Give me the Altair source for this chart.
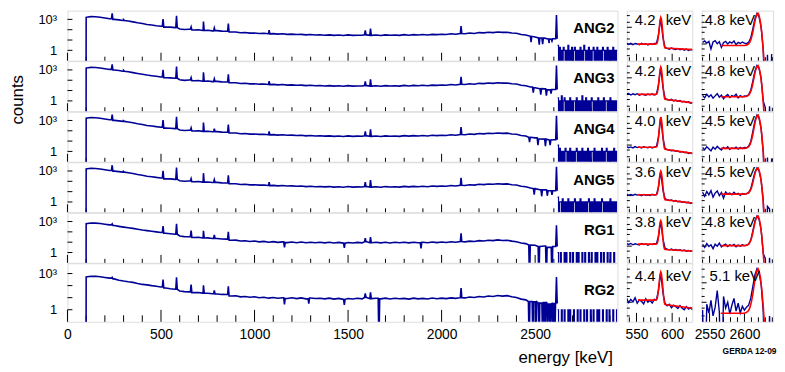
import math
import altair as alt
import pandas as pd

FONT = "Liberation Sans"
BLUE = "#000096"
RED = "#ff0000"
EMPTY = -3.0  # log10 position for empty (0-count) bins: drawn below the axis floor

DETECTORS = ["ANG2", "ANG3", "ANG4", "ANG5", "RG1", "RG2"]
FWHM_583 = ["4.2", "4.2", "4.0", "3.6", "3.8", "4.4"]
FWHM_2614 = ["4.8", "4.8", "4.5", "4.5", "4.8", "5.1"]

# ---------------- full spectra: log10(counts) on a 25 keV grid, 100..2600 keV
E_GRID = list(range(100, 2601, 25))

ANG2_LOG = [3.20,3.27,3.26,3.21,3.13,3.06,3.00,2.95,2.90,2.84,
            2.76,2.67,2.60,2.51,2.46,2.39,2.34,2.25,2.25,2.20,
            2.07,2.02,2.04,1.97,2.00,1.93,1.95,1.89,1.91,1.86,
            1.85,1.77,1.78,1.71,1.73,1.67,1.68,1.64,1.65,1.60,
            1.62,1.57,1.60,1.55,1.57,1.53,1.55,1.50,1.54,1.49,
            1.51,1.47,1.50,1.45,1.49,1.44,1.50,1.45,1.47,1.46,
            1.50,1.45,1.49,1.44,1.50,1.46,1.49,1.45,1.52,1.47,
            1.52,1.48,1.54,1.49,1.55,1.52,1.56,1.53,1.60,1.56,
            1.63,1.61,1.68,1.64,1.72,1.69,1.75,1.72,1.78,1.74,
            1.76,1.68,1.66,1.53,1.49,1.36,1.30,1.20,1.18,1.09,
            1.12]
ANG3_LOG = [3.18,3.25,3.24,3.19,3.12,3.05,2.99,2.94,2.88,2.82,
            2.74,2.66,2.58,2.50,2.44,2.38,2.32,2.24,2.23,2.19,
            2.05,1.99,2.02,1.95,1.98,1.91,1.93,1.87,1.89,1.84,
            1.83,1.75,1.76,1.69,1.71,1.65,1.66,1.62,1.63,1.58,
            1.60,1.55,1.58,1.53,1.55,1.51,1.53,1.48,1.52,1.47,
            1.49,1.45,1.48,1.43,1.47,1.42,1.48,1.43,1.45,1.44,
            1.48,1.43,1.47,1.42,1.48,1.44,1.47,1.43,1.50,1.45,
            1.50,1.46,1.52,1.47,1.53,1.50,1.54,1.51,1.58,1.54,
            1.61,1.59,1.66,1.62,1.70,1.67,1.73,1.70,1.76,1.72,
            1.74,1.66,1.64,1.51,1.47,1.34,1.28,1.18,1.16,1.07,
            1.10]
ANG4_LOG = [3.21,3.28,3.27,3.22,3.14,3.07,3.01,2.96,2.91,2.85,
            2.77,2.68,2.61,2.52,2.47,2.40,2.35,2.26,2.25,2.21,
            2.08,2.03,2.05,1.98,2.01,1.94,1.96,1.90,1.92,1.87,
            1.86,1.78,1.79,1.72,1.74,1.68,1.69,1.65,1.66,1.61,
            1.63,1.58,1.61,1.56,1.58,1.54,1.56,1.51,1.55,1.50,
            1.52,1.48,1.51,1.46,1.50,1.45,1.51,1.46,1.48,1.47,
            1.51,1.46,1.50,1.45,1.51,1.47,1.50,1.46,1.53,1.48,
            1.53,1.49,1.55,1.50,1.56,1.53,1.57,1.54,1.61,1.57,
            1.64,1.62,1.69,1.65,1.73,1.70,1.76,1.73,1.79,1.75,
            1.77,1.69,1.67,1.54,1.50,1.37,1.31,1.21,1.19,1.10,
            1.13]
ANG5_LOG = [3.19,3.26,3.25,3.20,3.12,3.05,2.99,2.94,2.89,2.83,
            2.75,2.66,2.59,2.50,2.45,2.38,2.33,2.24,2.24,2.19,
            2.06,2.00,2.03,1.96,1.99,1.92,1.94,1.88,1.90,1.85,
            1.84,1.76,1.77,1.70,1.72,1.66,1.67,1.63,1.64,1.59,
            1.61,1.56,1.59,1.54,1.56,1.52,1.54,1.49,1.53,1.48,
            1.50,1.46,1.49,1.44,1.48,1.43,1.49,1.44,1.46,1.45,
            1.49,1.44,1.48,1.43,1.49,1.45,1.48,1.44,1.51,1.46,
            1.51,1.47,1.53,1.48,1.54,1.51,1.55,1.52,1.59,1.55,
            1.62,1.60,1.67,1.63,1.71,1.68,1.74,1.71,1.77,1.73,
            1.75,1.67,1.65,1.52,1.48,1.35,1.29,1.19,1.17,1.08,
            1.08]
RG1_LOG = [2.80,2.86,2.85,2.81,2.74,2.68,2.61,2.53,2.46,2.40,
           2.34,2.26,2.18,2.12,2.06,2.00,1.94,1.86,1.81,1.77,
           1.60,1.54,1.53,1.46,1.47,1.41,1.42,1.36,1.36,1.31,
           1.30,1.19,1.20,1.12,1.14,1.07,1.11,1.03,1.08,1.00,
           1.05,0.98,1.03,0.96,1.02,0.95,1.01,0.94,1.00,0.95,
           0.99,0.93,0.99,0.92,0.98,0.91,0.97,0.92,0.98,0.93,
           1.04,0.95,0.99,0.93,1.00,0.92,0.99,0.94,1.00,0.93,
           1.00,0.94,0.99,0.95,1.02,0.96,1.01,0.97,1.04,0.99,
           1.06,1.03,1.10,1.07,1.15,1.11,1.19,1.15,1.22,1.17,
           1.19,1.10,1.05,0.92,0.86,0.72,0.70,0.58,0.63,0.50,
           0.58]
RG2_LOG = [2.72,2.78,2.77,2.74,2.68,2.62,2.56,2.45,2.38,2.32,
           2.27,2.18,2.10,2.06,2.00,1.95,1.88,1.80,1.74,1.70,
           1.55,1.50,1.48,1.42,1.43,1.38,1.37,1.33,1.31,1.27,
           1.26,1.14,1.16,1.07,1.10,1.03,1.07,0.99,1.04,0.96,
           1.02,0.95,1.00,0.93,0.99,0.92,0.98,0.90,0.97,0.93,
           0.95,0.90,0.96,0.88,0.94,0.86,0.93,0.89,0.95,0.90,
           1.02,0.92,0.95,0.90,0.96,0.89,0.95,0.91,0.94,0.88,
           0.96,0.90,0.94,0.89,0.97,0.91,0.96,0.92,0.98,0.94,
           1.00,0.98,1.05,1.01,1.10,1.06,1.14,1.10,1.18,1.13,
           1.17,1.08,1.02,0.88,0.82,0.68,0.66,0.55,0.60,0.48,
           0.52]
CONT = {"ANG2": ANG2_LOG, "ANG3": ANG3_LOG, "ANG4": ANG4_LOG,
        "ANG5": ANG5_LOG, "RG1": RG1_LOG, "RG2": RG2_LOG}

# gamma lines (energy keV, log10 peak height)
PEAKS = {
    "ANG2": [(239,3.58),(300,2.97),(511,3.02),(583,3.34),(661,2.27),(727,2.80),(785,2.18),
             (860,2.59),(1078,1.95),(1592,1.93),(1620,2.12),(2104,2.34),(2614,3.42)],
    "ANG3": [(239,3.55),(300,2.95),(511,3.00),(583,3.33),(661,2.25),(727,2.78),(785,2.15),
             (860,2.57),(1078,1.92),(1592,1.90),(1620,2.10),(2104,2.32),(2614,3.42)],
    "ANG4": [(239,3.57),(300,2.96),(511,3.03),(583,3.35),(661,2.28),(727,2.80),(785,2.20),
             (860,2.60),(1078,1.95),(1592,1.95),(1620,2.14),(2104,2.36),(2614,3.45)],
    "ANG5": [(239,3.56),(300,2.95),(511,3.01),(583,3.33),(661,2.26),(727,2.79),(785,2.17),
             (860,2.58),(1078,1.93),(1592,1.92),(1620,2.12),(2104,2.33),(2614,3.42)],
    "RG1":  [(239,2.78),(511,2.55),(583,2.78),(661,2.12),(727,2.10),(785,1.70),(860,2.00),
             (1592,1.40),(1620,1.50),(2104,1.85),(2614,2.65)],
    "RG2":  [(239,2.68),(511,2.50),(583,2.70),(661,2.08),(727,2.03),(785,1.60),(860,1.95),
             (1592,1.35),(1620,1.45),(2104,1.80),(2614,2.72)],
}
# downward fluctuations / empty bins (energy keV, log10 value)
DIPS = {
    "ANG2": [(2478,0.80),(2522,0.55),(2540,0.60),(2575,0.70),(2590,0.90)],
    "ANG3": [(2490,0.80),(2530,0.60),(2560,0.50),(2585,0.70)],
    "ANG4": [(2470,0.90),(2515,0.60),(2555,0.50),(2580,0.60)],
    "ANG5": [(2495,0.70),(2535,0.55),(2565,0.60),(2590,0.70)],
    "RG1":  [(1160,0.50),(1480,0.45),(1890,0.40),(2470,EMPTY),(2520,EMPTY),(2560,EMPTY),(2590,EMPTY)],
    "RG2":  [(1160,0.45),(1290,0.50),(1480,0.40),(1665,EMPTY),(2468,EMPTY),(2488,EMPTY),
             (2505,EMPTY),(2522,EMPTY),(2540,EMPTY),(2552,EMPTY),(2566,EMPTY),(2580,EMPTY),
             (2594,EMPTY),(2605,EMPTY)],
}

# high-energy tail: counts in 5 keV bins starting at 2620 keV (last entry = end edge)
TAIL_E = list(range(2620, 2941, 5))
TAIL_COUNTS = {
    "ANG2": [3,0,2,0,1,0,2,1,0,1,0,3,0,1,0,2,0,1,2,0,1,0,1,0,2,0,1,0,3,1,0,1,
             0,2,0,1,0,1,2,0,1,0,2,0,1,0,1,0,2,1,0,1,0,2,0,1,0,1,0,2,0,1,0,1],
    "ANG3": [2,0,1,0,3,0,1,2,0,1,0,1,0,2,0,1,0,1,1,0,2,0,1,0,1,0,3,0,1,0,2,0,
             1,0,1,0,2,1,0,1,0,1,0,2,0,1,0,1,0,2,0,1,1,0,1,0,2,0,1,0,1,0,1,0],
    "ANG4": [4,0,2,0,1,0,1,0,2,1,0,1,0,2,0,1,0,1,0,1,2,0,1,0,1,0,2,0,1,0,1,0,
             2,0,1,0,1,1,0,2,0,1,0,1,0,1,0,2,0,1,0,1,2,0,1,0,1,0,1,0,2,0,1,0],
    "ANG5": [3,0,1,1,0,2,0,1,0,1,0,2,0,1,0,1,0,1,2,0,1,0,1,0,2,0,1,0,1,0,1,0,
             1,2,0,1,0,1,0,2,0,1,0,1,0,1,0,2,1,0,1,0,1,0,1,0,2,0,1,0,1,0,1,0],
    "RG1":  [1,0,0,1,0,0,0,1,0,1,0,0,0,1,0,0,1,0,0,0,1,0,1,0,0,0,1,0,0,1,0,0,
             0,1,0,0,1,0,0,0,1,0,1,0,0,0,1,0,0,1,0,0,0,1,0,0,1,0,0,0,1,0,0,0],
    "RG2":  [1,0,0,0,1,0,0,1,0,0,0,1,0,1,0,0,0,1,0,0,0,1,0,0,1,0,0,0,1,0,0,1,
             0,0,0,1,0,0,1,0,0,0,1,0,1,0,0,0,1,0,0,0,1,0,0,1,0,0,0,1,0,0,0,1],
}

# ---------------- 583 keV zoom: data (3 keV grid) and fit, log10 scale
MID_E = list(range(536, 630, 3))
MID_DATA = [
    [2.05,1.97,2.04,1.96,2.03,2.00,1.95,2.04,1.98,2.02,1.94,2.01,1.97,2.03,2.04,2.58,3.58,2.40,1.80,1.74,1.69,1.76,1.70,1.67,1.73,1.65,1.70,1.63,1.69,1.61,1.67,1.64],
    [2.03,2.06,1.97,2.04,1.99,2.05,1.96,2.02,2.00,1.95,2.03,1.98,2.04,1.97,2.02,2.62,3.64,2.45,1.78,1.70,1.66,1.71,1.62,1.67,1.60,1.64,1.55,1.60,1.52,1.56,1.47,1.51],
    [1.90,1.84,1.89,1.83,1.91,1.85,1.88,1.82,1.90,1.86,1.84,1.89,1.83,1.88,1.92,2.50,3.68,2.45,1.80,1.73,1.70,1.66,1.69,1.62,1.64,1.58,1.61,1.55,1.57,1.50,1.53,1.48],
    [2.09,2.02,2.07,2.01,2.08,2.03,2.06,1.99,2.07,2.02,2.05,2.00,2.08,2.03,2.06,2.55,3.46,2.35,1.82,1.75,1.71,1.74,1.67,1.70,1.63,1.66,1.60,1.62,1.57,1.60,1.53,1.56],
    [2.15,2.10,2.16,2.08,2.14,2.11,2.07,2.15,2.10,2.13,2.06,2.12,2.09,2.14,2.15,2.62,3.52,2.45,1.88,1.82,1.78,1.83,1.76,1.80,1.74,1.78,1.72,1.77,1.70,1.74,1.69,1.72],
    [2.20,1.98,2.15,2.02,2.24,1.95,2.12,2.05,1.92,2.18,2.00,2.10,1.96,2.15,2.12,2.65,3.55,2.50,1.95,1.82,1.90,1.72,1.85,1.78,1.68,1.83,1.70,1.62,1.78,1.65,1.72,1.60],
]
FIT_MID_E = [552,576,578,579,580,581,582,583,584,585,586,587,588,589,590,629]
FIT_MID = [
    [1.99,1.99,2.01,2.06,2.25,2.60,3.00,3.40,3.58,3.45,3.10,2.60,2.15,1.86,1.76,1.66],
    [2.01,2.01,2.03,2.08,2.28,2.64,3.05,3.46,3.64,3.50,3.15,2.64,2.15,1.82,1.71,1.50],
    [1.87,1.87,1.89,1.95,2.17,2.55,2.99,3.46,3.68,3.53,3.16,2.62,2.12,1.82,1.75,1.50],
    [2.05,2.05,2.07,2.12,2.30,2.62,3.00,3.32,3.46,3.35,3.03,2.58,2.15,1.86,1.75,1.55],
    [2.12,2.12,2.13,2.16,2.30,2.66,3.08,3.40,3.52,3.40,3.02,2.50,2.05,1.85,1.80,1.70],
    [2.11,2.11,2.14,2.20,2.40,2.72,3.08,3.40,3.55,3.44,3.15,2.75,2.30,1.98,1.88,1.69],
]

# ---------------- 2614 keV zoom
RIGHT_E = list(range(2540, 2641, 3))
RIGHT_DATA = [
    [2.10,2.18,2.05,2.15,1.70,2.12,2.20,2.02,2.14,1.80,2.08,2.16,2.00,2.12,2.05,2.18,1.95,2.10,2.03,2.12,2.05,
     2.02,2.10,2.35,2.90,3.50,3.84,3.62,3.00,1.65,EMPTY,1.35,EMPTY,1.40],
    [1.95,1.80,2.02,1.85,1.98,1.78,1.92,2.05,1.84,1.96,1.75,1.90,2.00,1.82,1.94,1.88,2.02,1.80,1.93,1.86,1.92,
     1.90,1.98,2.25,2.80,3.40,3.74,3.55,2.95,1.60,1.20,EMPTY,1.30,EMPTY],
    [1.85,1.72,1.90,1.78,1.65,1.88,1.75,1.92,1.80,1.70,1.86,1.78,1.90,1.74,1.83,1.79,1.88,1.76,1.85,1.80,1.86,
     1.84,1.92,2.20,2.80,3.45,3.80,3.60,2.95,1.55,EMPTY,1.25,EMPTY,1.20],
    [2.20,1.95,2.25,2.05,2.30,1.90,2.15,2.28,2.00,2.18,1.85,2.22,2.10,2.15,2.05,2.20,2.08,2.14,2.02,2.12,2.10,
     2.12,2.18,2.40,2.90,3.40,3.66,3.48,2.90,1.70,EMPTY,1.35,1.20,EMPTY],
    [2.10,1.92,2.15,1.98,2.08,1.85,2.12,2.00,2.18,1.95,2.05,2.12,1.98,2.08,2.02,2.10,1.96,2.06,2.00,2.08,2.03,
     2.05,2.12,2.35,2.90,3.50,3.81,3.60,2.95,1.55,1.25,EMPTY,1.30,EMPTY],
    [1.60,EMPTY,1.90,1.45,2.10,1.30,1.75,2.60,1.50,EMPTY,2.30,1.70,2.00,1.40,1.85,2.20,1.55,1.95,1.45,1.80,1.60,
     1.75,1.85,2.20,2.80,3.40,3.72,3.50,2.90,1.50,EMPTY,EMPTY,1.30,EMPTY],
]
FIT_RIGHT_E = [2566,2600,2603,2606,2608,2610,2612,2614,2616,2618,2619.5,2621,2623,2625,2627,2629]
FIT_RIGHT = [
    [1.91,1.91,1.93,2.00,2.12,2.35,2.70,3.15,3.55,3.78,3.84,3.70,3.30,2.60,1.60,0.40],
    [1.87,1.87,1.89,1.96,2.08,2.30,2.64,3.07,3.46,3.68,3.74,3.60,3.20,2.50,1.50,0.30],
    [1.80,1.80,1.82,1.90,2.03,2.27,2.63,3.09,3.50,3.74,3.80,3.66,3.27,2.58,1.58,0.38],
    [2.09,2.09,2.11,2.17,2.27,2.46,2.76,3.14,3.45,3.62,3.66,3.53,3.16,2.52,1.58,0.45],
    [2.03,2.03,2.05,2.12,2.24,2.46,2.80,3.22,3.58,3.77,3.81,3.67,3.26,2.56,1.56,0.36],
    [1.44,1.44,1.48,1.58,1.75,2.02,2.42,2.90,3.35,3.63,3.72,3.60,3.25,2.62,1.75,0.70],
]

# ---------------- axes / ticks
X_MAJOR_LEFT = [0, 500, 1000, 1500, 2000, 2500]
X_MINOR_LEFT = [t for t in range(100, 2940, 100) if t % 500]
Y_TICKS_LEFT = [0, 1, 2, 3]
MID_MAJOR, MID_MINOR = [550, 600], [540, 560, 570, 580, 590, 610, 620]
RIGHT_MAJOR, RIGHT_MINOR = [2550, 2600], [2540, 2560, 2570, 2580, 2590, 2610, 2620, 2630, 2640]
INSET_Y_MAJOR, INSET_Y_MINOR = [2, 3], [1.3, 1.7, 2.3, 2.7, 3.3, 3.7]

W_LEFT, W_MID, W_RIGHT = 555, 66, 72
H_ROW, H_LAST = 50.5, 59


def rules_x(values, scale, axis, H, L):
    return alt.Chart(pd.DataFrame({"t": values})).mark_rule(color="black", strokeWidth=1).encode(
        x=alt.X("t:Q", scale=scale, axis=axis), y=alt.value(H), y2=alt.value(H - L))


def rules_y(values, scale, axis, L):
    return alt.Chart(pd.DataFrame({"t": values})).mark_rule(color="black", strokeWidth=1).encode(
        y=alt.Y("t:Q", scale=scale, axis=axis), x=alt.value(0), x2=alt.value(L))


def text(s, x, y, align, size, weight="normal", angle=0):
    return alt.Chart(pd.DataFrame({"s": [s]})).mark_text(
        align=align, baseline="middle", font=FONT, fontSize=size, fontWeight=weight,
        angle=angle, color="black").encode(x=alt.value(x), y=alt.value(y), text="s:N")


def bottom_axis(values, W, title="", **kw):
    return alt.Axis(values=values, format="d", ticks=False, domain=False, grid=False,
                    labelFont=FONT, labelFontSize=14, labelPadding=6, labelColor="black",
                    labelFlush=False, labelOverlap=False, title=title, titleFont=FONT,
                    titleColor="black", **kw)


def left_panel(r):
    det = DETECTORS[r]
    last = r == 5
    H = H_LAST if last else H_ROW
    xs = alt.Scale(domain=[0, 2940], nice=False, zero=False)
    ys = alt.Scale(domain=[-1.0, 3.85], nice=False, zero=False)
    xaxis = (bottom_axis(X_MAJOR_LEFT, W_LEFT, "energy [keV]", titleFontSize=17,
                         titleFontWeight="normal", titleAnchor="end", titleAlign="right",
                         titleX=W_LEFT - 5, titleY=41, titleBaseline="alphabetic")
             if last else None)
    yaxis = alt.Axis(values=[0, 3], labelExpr="datum.value == 3 ? '10³' : '1'", ticks=False,
                     domain=False, grid=False, labelFont=FONT, labelFontSize=13,
                     labelColor="black", labelPadding=11, title="")

    cont = CONT[det]

    def near(e):
        i = min(range(len(E_GRID)), key=lambda k: abs(E_GRID[k] - e))
        return cont[i]

    pts = [(99.5, EMPTY)] + list(zip(E_GRID, cont))
    for e, v in PEAKS[det] + DIPS[det]:
        pts += [(e - 4, near(e - 4)), (e, v), (e + 4, near(e + 4))]
    pts.sort()
    main = pd.DataFrame({"e": [p[0] for p in pts], "v": [p[1] for p in pts],
                         "i": list(range(len(pts)))})
    counts = TAIL_COUNTS[det] + [TAIL_COUNTS[det][-1]]
    tail = pd.DataFrame({"e": TAIL_E,
                         "v": [math.log10(c) if c > 0 else EMPTY for c in counts]})

    maj, mnr = (12, 6.5) if last else (8, 4)
    layers = [
        rules_x(X_MAJOR_LEFT, xs, xaxis, H, maj),
        rules_x(X_MINOR_LEFT, xs, xaxis, H, mnr),
        rules_y(Y_TICKS_LEFT, ys, yaxis, 5),
        alt.Chart(main).mark_line(color=BLUE, strokeWidth=1.6, clip=True).encode(
            x=alt.X("e:Q", scale=xs, axis=xaxis), y=alt.Y("v:Q", scale=ys, axis=yaxis),
            order="i:Q"),
        alt.Chart(tail).mark_line(color=BLUE, strokeWidth=1.2, clip=True,
                                  interpolate="step-after").encode(
            x=alt.X("e:Q", scale=xs, axis=xaxis), y=alt.Y("v:Q", scale=ys, axis=yaxis)),
        text(det, W_LEFT - 3, 27 if last else 17.5, "right", 15, "bold"),
    ]
    if r == 2:
        layers.append(text("counts", -50, -12, "center", 17, angle=270))
    return alt.layer(*layers).properties(width=W_LEFT, height=H)


def inset_panel(r, kind):
    last = r == 5
    H = H_LAST if last else H_ROW
    ys = alt.Scale(domain=[1, 4], nice=False, zero=False)
    if kind == "mid":
        W = W_MID
        xs = alt.Scale(domain=[536.5, 628.2], nice=False, zero=False)
        E, data, fE, fit = MID_E, MID_DATA[r], FIT_MID_E, FIT_MID[r]
        maj_v, min_v = MID_MAJOR, MID_MINOR
        xaxis = bottom_axis(MID_MAJOR, W) if last else None
        labels = [text(FWHM_583[r], 8, 13 if last else 9.5, "left", 15),
                  text("keV", W - 1, 13 if last else 9.5, "right", 15)]
    else:
        W = W_RIGHT
        xs = alt.Scale(domain=[2538.7, 2641], nice=False, zero=False)
        E, data, fE, fit = RIGHT_E, RIGHT_DATA[r], FIT_RIGHT_E, FIT_RIGHT[r]
        maj_v, min_v = RIGHT_MAJOR, RIGHT_MINOR
        xaxis = (bottom_axis(RIGHT_MAJOR, W, "GERDA 12-09", titleFontSize=8.5,
                             titleFontWeight="bold", titleAnchor="end", titleAlign="right",
                             titleX=W + 3, titleY=32, titleBaseline="alphabetic")
                 if last else None)
        labels = [text(FWHM_2614[r] + " keV", 8 if last else 3, 13 if last else 9.5, "left", 15)]
    blue = pd.DataFrame({"e": E, "v": data})
    red = pd.DataFrame({"e": fE, "v": fit})
    maj, mnr = (9, 4.5) if last else (7, 3.5)
    layers = [
        rules_x(maj_v, xs, xaxis, H, maj),
        rules_x(min_v, xs, xaxis, H, mnr),
        rules_y(INSET_Y_MAJOR, ys, None, 5),
        rules_y(INSET_Y_MINOR, ys, None, 3),
        alt.Chart(blue).mark_line(color=BLUE, strokeWidth=1.4, clip=True).encode(
            x=alt.X("e:Q", scale=xs, axis=xaxis), y=alt.Y("v:Q", scale=ys, axis=None)),
        alt.Chart(red).mark_line(color=RED, strokeWidth=1.6, clip=True).encode(
            x=alt.X("e:Q", scale=xs, axis=xaxis), y=alt.Y("v:Q", scale=ys, axis=None)),
    ] + labels
    return alt.layer(*layers).properties(width=W, height=H)


panels = []
for r in range(6):
    panels += [left_panel(r), inset_panel(r, "mid"), inset_panel(r, "right")]

chart = alt.concat(
    *panels, columns=3, spacing={"row": 0, "column": 9.5}, bounds="flush", align="each",
    padding=0,
).configure_view(stroke="black", strokeWidth=1.6).configure(font=FONT)

chart.save("out.html", embed_options={"renderer": "svg", "actions": False})
